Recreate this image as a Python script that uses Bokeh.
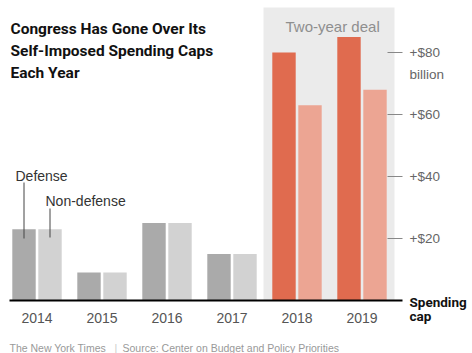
from bokeh.plotting import figure
from bokeh.models import Range1d, ColumnDataSource
from bokeh.core.properties import value
from bokeh.embed import file_html
from bokeh.resources import INLINE

# ---- data ----
years = [2014, 2015, 2016, 2017, 2018, 2019]
year_labels = ["2014", "2015", "2016", "2017", "2018", "2019"]
defense = [23, 9, 25, 15, 80, 85]
nondefense = [23, 9, 25, 15, 63, 68]
tick_values = [20, 40, 60, 80]
tick_labels = ["+$20", "+$40", "+$60", "+$80"]
deal_years = [2018, 2019]

title_lines = ["Congress Has Gone Over Its", "Self-Imposed Spending Caps", "Each Year"]

# ---- pixel helpers (layout) ----
PX_PER_YEAR = 65.0
X0 = 36.5      # pixel x of 2014 center
PX_PER_USD = 3.1
Y0 = 300.0     # pixel y of zero
W, H = 472, 353

def X(px):
    return 2014 + (px - X0) / PX_PER_YEAR

def Y(py):
    return (Y0 - py) / PX_PER_USD

p = figure(width=W, height=H, output_backend="svg", toolbar_location=None,
           x_range=Range1d(X(0), X(W)), y_range=Range1d(Y(H), Y(0)),
           min_border=0, outline_line_color=None)
p.xaxis.visible = False
p.yaxis.visible = False
p.grid.visible = False
p.background_fill_color = "white"
p.border_fill_color = "white"

# shaded two-year deal region
p.quad(left=[X(263)], right=[X(394)], bottom=[0], top=[Y(7)],
       fill_color="#ebebeb", line_color=None)

bw = 0.36
off = 0.2
d_colors = ["#e06b4f" if y in deal_years else "#aaaaaa" for y in years]
n_colors = ["#eca593" if y in deal_years else "#d2d2d2" for y in years]
src = ColumnDataSource(dict(
    xd=[y - off for y in years], xn=[y + off for y in years],
    d=defense, n=nondefense, dc=d_colors, nc=n_colors))
p.vbar(x="xd", top="d", bottom=0, width=bw, fill_color="dc", line_color=None, source=src)
p.vbar(x="xn", top="n", bottom=0, width=bw, fill_color="nc", line_color=None, source=src)

# baseline
p.segment(x0=[X(9)], x1=[X(402)], y0=[0], y1=[0], line_color="black", line_width=2)

# right ticks
p.segment(x0=[X(387)] * len(tick_values), x1=[X(402)] * len(tick_values),
          y0=tick_values, y1=tick_values, line_color="#888888", line_width=1)
p.text(x=[X(409)] * len(tick_values), y=tick_values, text=tick_labels,
       text_font=value("Liberation Sans"), text_font_size="13.5px",
       text_color="#666666", text_baseline="middle", text_align="left")
p.text(x=[X(409)], y=[Y(74)], text=["billion"],
       text_font=value("Liberation Sans"), text_font_size="13.5px",
       text_color="#666666", text_baseline="alphabetic", text_align="left")

# spending cap label
p.text(x=[X(409), X(409)], y=[Y(301), Y(315)], text=["Spending", "cap"],
       text_font=value("Roboto"), text_font_style="bold", text_font_size="13.5px",
       text_color="#111111", text_baseline="alphabetic", text_align="left")

# year labels
p.text(x=years, y=[Y(317)] * len(years), text=year_labels,
       text_font=value("Liberation Sans"), text_font_size="14px",
       text_color="#555555", text_baseline="alphabetic", text_align="center")

# two-year deal label
p.text(x=[X(285)], y=[Y(26)], text=["Two-year deal"],
       text_font=value("Liberation Sans"), text_font_size="15px",
       text_color="#8f8f8f", text_baseline="alphabetic", text_align="left")

# defense / non-defense annotations
p.text(x=[X(15), X(45)], y=[Y(175), Y(200)], text=["Defense", "Non-defense"],
       text_font=value("Liberation Sans"), text_font_size="14px",
       text_color="#333333", text_baseline="alphabetic", text_align="left")
p.segment(x0=[X(23.5), X(49.5)], x1=[X(23.5), X(49.5)],
          y0=[Y(182), Y(208)], y1=[Y(238), Y(237)],
          line_color="#444444", line_width=1)

# title
p.text(x=[X(10)] * 3, y=[Y(28), Y(50), Y(72)], text=title_lines,
       text_font=value("Roboto"), text_font_style="bold", text_font_size="15.5px",
       text_color="#111111", text_baseline="alphabetic", text_align="left")

# footer
p.text(x=[X(9)], y=[Y(347)], text=["The New York Times"],
       text_font=value("Liberation Sans"), text_font_size="10.5px",
       text_color="#999999", text_baseline="alphabetic", text_align="left")
p.text(x=[X(114)], y=[Y(347)], text=["|"],
       text_font=value("Liberation Sans"), text_font_size="10.5px",
       text_color="#cccccc", text_baseline="alphabetic", text_align="left")
p.text(x=[X(122)], y=[Y(347)], text=["Source: Center on Budget and Policy Priorities"],
       text_font=value("Liberation Sans"), text_font_size="10.5px",
       text_color="#999999", text_baseline="alphabetic", text_align="left")

open("out.html", "w").write(file_html(p, INLINE))
